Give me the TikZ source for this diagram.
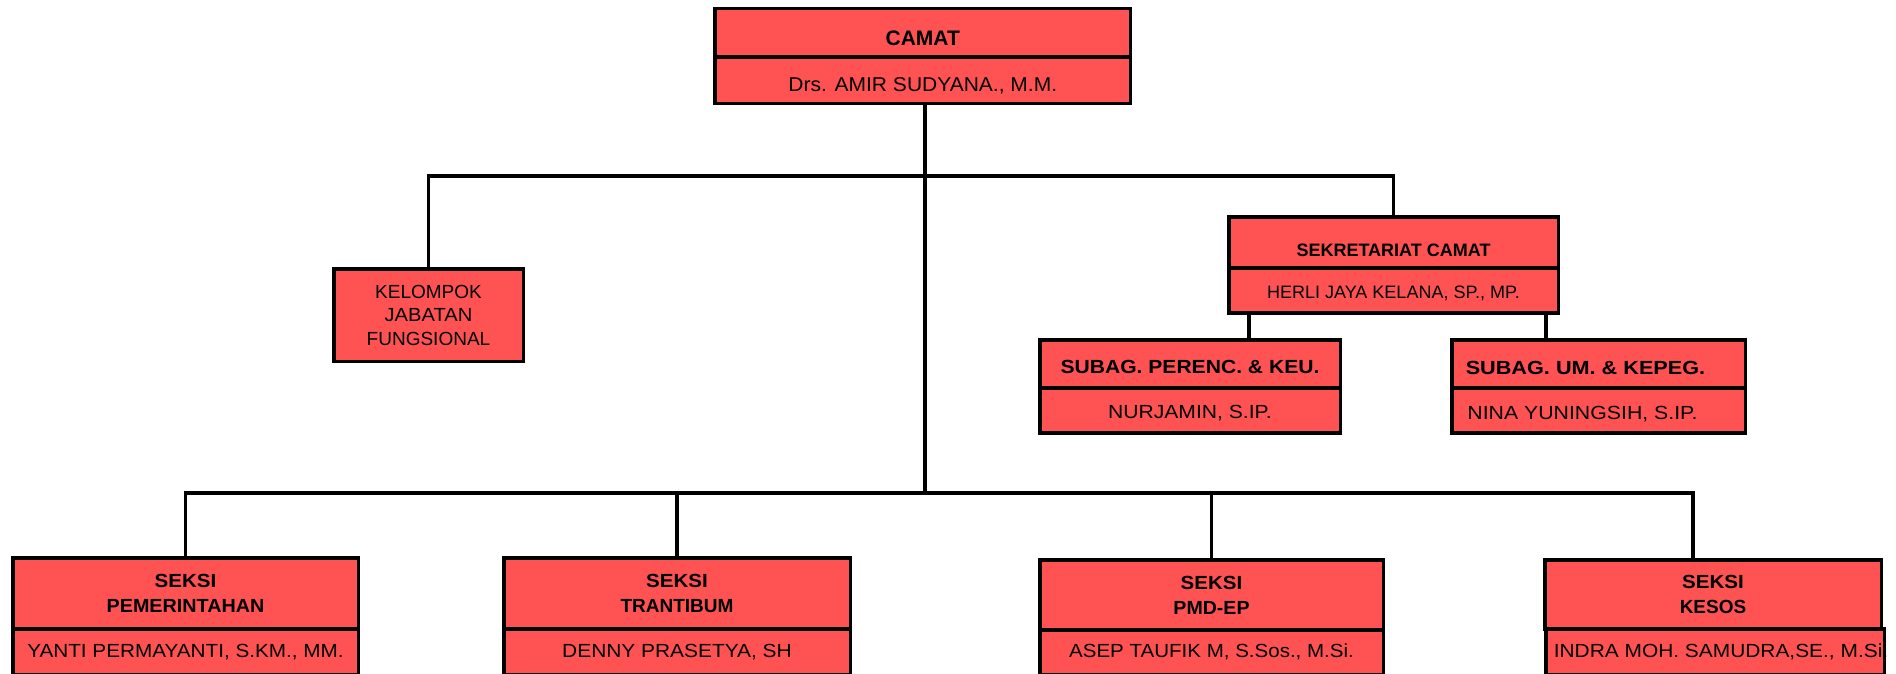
\documentclass[tikz,border=0pt]{standalone}
\usepackage{fontspec}
\setmainfont{Liberation Sans}
\usepackage{graphicx}
\definecolor{boxred}{RGB}{255,82,82}
\newcommand\hx[2]{\scalebox{#1}[1]{#2}}
\begin{document}
\begin{tikzpicture}[x=1pt,y=-1pt,
  box/.style={draw=black,line width=3.5pt,fill=boxred,inner sep=0pt,outer sep=0pt,align=center,text=black},
  wire/.style={draw=black,line width=3.5pt},
  fcamat/.style={font=\fontsize{21}{25}\selectfont\bfseries},
  fcamatname/.style={font=\fontsize{20}{24}\selectfont},
  fkjf/.style={font=\fontsize{19}{23.5}\selectfont},
  fsmall/.style={font=\fontsize{18}{23.5}\selectfont},
  fsmallb/.style={font=\fontsize{18}{23.5}\selectfont\bfseries},
  fnorm/.style={font=\fontsize{19}{25}\selectfont},
  fnormb/.style={font=\fontsize{19}{25}\selectfont\bfseries},
  cap/.style={text height=#1,text depth=0pt}
]
\useasboundingbox (0,0) rectangle (1896,673);
\clip (0,0) rectangle (1896,673);

% CAMAT
\node[box,fcamat,cap=25pt,minimum width=415.5pt,minimum height=48.3pt] (camathead) at (922.75,32.85) {CAMAT};
\node[box,fcamatname,cap=23.3pt,minimum width=415.5pt,minimum height=46.3pt] (camatname) at (922.75,80.15) {\hx{1.05}{Drs. AMIR SUDYANA., M.M.}};

% Kelompok jabatan fungsional
\node[box,fkjf,minimum width=189.5pt,minimum height=92.5pt] (kjf) at (428.5,315) {KELOMPOK\\\hx{1.06}{JABATAN}\\FUNGSIONAL};

% Sekretariat
\node[box,fsmallb,cap=28.9pt,minimum width=329.5pt,minimum height=51.25pt] (sekhead) at (1393.5,242.4) {SEKRETARIAT CAMAT};
\node[box,fsmall,cap=14.9pt,minimum width=329.5pt,minimum height=45.25pt] (sekname) at (1393.5,290.6) {HERLI JAYA KELANA, SP., MP.};

% Subag
\node[box,fnormb,cap=19.6pt,minimum width=300.5pt,minimum height=48.25pt] (sub1head) at (1190,363.9) {\hx{1.11}{SUBAG. PERENC. \& KEU.}};
\node[box,fnorm,cap=16.6pt,minimum width=300.5pt,minimum height=45.25pt] (sub1name) at (1190,410.6) {\hx{1.11}{NURJAMIN, S.IP.}};
\node[box,fnormb,cap=20.5pt,minimum width=293.5pt,minimum height=48.25pt] (sub2head) at (1598.5,363.9) {\hspace*{-13pt}\hx{1.14}{SUBAG. UM. \& KEPEG.}\hspace*{13pt}};
\node[box,fnorm,cap=18pt,minimum width=293.5pt,minimum height=45.25pt] (sub2name) at (1598.5,410.6) {\hspace*{-16pt}\hx{1.12}{NINA YUNINGSIH, S.IP.}\hspace*{16pt}};

% Seksi
\node[box,fnormb,minimum width=345.5pt,minimum height=71.25pt] (s1head) at (185.5,593.4) {\hx{1.08}{SEKSI}\\\hx{1.04}{PEMERINTAHAN}};
\node[box,fnorm,cap=10pt,minimum width=345.5pt,minimum height=46pt] (s1name) at (185.5,652) {\hx{1.09}{YANTI PERMAYANTI, S.KM., MM.}};
\node[box,fnormb,minimum width=346.5pt,minimum height=71.25pt] (s2head) at (677,593.4) {\hx{1.08}{SEKSI}\\TRANTIBUM};
\node[box,fnorm,cap=10pt,minimum width=346.5pt,minimum height=46pt] (s2name) at (677,652) {\hx{1.10}{DENNY PRASETYA, SH}};
\node[box,fnormb,minimum width=343.5pt,minimum height=70.25pt] (s3head) at (1211.5,594.9) {\hx{1.08}{SEKSI}\\\hx{1.03}{PMD-EP}};
\node[box,fnorm,cap=9pt,minimum width=343.5pt,minimum height=45pt] (s3name) at (1211.5,652.5) {\hx{1.08}{ASEP TAUFIK M, S.Sos., M.Si.}};
\node[box,fnormb,minimum width=336.5pt,minimum height=69.25pt] (s4head) at (1713,594.4) {\hx{1.08}{SEKSI}\\KESOS};
\node[box,fnorm,cap=11pt,minimum width=338.5pt,minimum height=46pt] (s4name) at (1715,652) {\hspace*{6pt}\hx{1.10}{INDRA MOH. SAMUDRA,SE., M.Si.}\hspace*{-6pt}};

% connectors
\coordinate (busA) at (925,176);
\coordinate (busB) at (925,493);
\coordinate (p1) at ([xshift=59pt]sub1head.north);
\coordinate (p2) at ([xshift=-52.5pt]sub2head.north);
\coordinate (p4) at ([xshift=-20pt]s4head.north);

\draw[wire] (camatname.south -| busA) -- (busB);
\draw[wire] (kjf.north) -- (kjf.north |- busA) -- (sekhead.north |- busA) -- (sekhead.north);
\draw[wire] (p1) -- (p1 |- sekname.south);
\draw[wire] (p2) -- (p2 |- sekname.south);
\draw[wire] (s1head.north) -- (s1head.north |- busB) -- (p4 |- busB) -- (p4);
\draw[wire] (s2head.north) -- (s2head.north |- busB);
\draw[wire] (s3head.north) -- (s3head.north |- busB);
\end{tikzpicture}
\end{document}
